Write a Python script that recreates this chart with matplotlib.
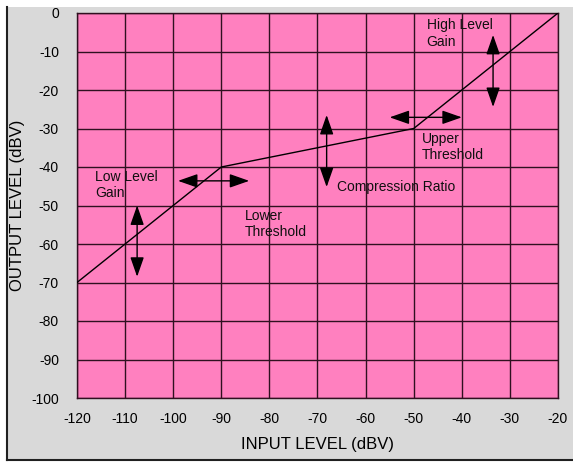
import matplotlib
matplotlib.use("Agg")
import matplotlib.pyplot as plt
from matplotlib.patches import Rectangle
from matplotlib.lines import Line2D

plt.rcParams['font.family'] = ['Liberation Sans', 'DejaVu Sans']

# Transfer curve (input dBV, output dBV)
curve_in = [-120, -90, -50, -20]
curve_out = [-70, -40, -30, 0]

x_ticks = [-120, -110, -100, -90, -80, -70, -60, -50, -40, -30, -20]
y_ticks = [-100, -90, -80, -70, -60, -50, -40, -30, -20, -10, 0]

# Double-headed arrows: (x1, y1, x2, y2)
arrows_start = [(-107.5, -50.0), (-99.0, -43.6), (-68.1, -26.5), (-55.0, -27.1), (-33.5, -5.7)]
arrows_end = [(-107.5, -68.5), (-84.2, -43.6), (-68.1, -45.2), (-40.0, -27.1), (-33.5, -24.4)]

# Annotations
labels = ["High Level\nGain", "Upper\nThreshold", "Compression Ratio", "Low Level\nGain", "Lower\nThreshold"]
label_pos = [(-47.3, -1.4), (-48.4, -30.8), (-66.0, -43.5), (-116.2, -40.8), (-85.2, -50.8)]

fig = plt.figure(figsize=(5.73, 4.62), dpi=100)
fig.patch.set_facecolor('white')
# gray panel with border
fig.patches.append(Rectangle((7/573, 2/462), 1 - 7/573, 1 - 9/462, transform=fig.transFigure,
                             facecolor='#D9D9D9', edgecolor='none', zorder=-10))
fig.lines.append(Line2D([6.5/573, 6.5/573], [2/462, 1 - 7/462], transform=fig.transFigure,
                        color='#202020', lw=1.5))
fig.lines.append(Line2D([6.5/573, 1.0], [2.5/462, 2.5/462], transform=fig.transFigure,
                        color='#202020', lw=1.5))

ax = fig.add_axes([77/573, 64/462, 481/573, 385/462])
ax.set_facecolor('#FF80BF')
ax.set_xlim(-120, -20)
ax.set_ylim(-100, 0)
ax.set_xticks(x_ticks)
ax.set_yticks(y_ticks)
ax.set_xticklabels([str(v) for v in x_ticks], fontsize=10)
ax.set_yticklabels([str(v) for v in y_ticks], fontsize=10)
ax.tick_params(axis='x', length=0, pad=10)
ax.tick_params(axis='y', length=0, pad=13)
ax.grid(True, color='#301020', lw=1.0)
ax.set_axisbelow(True)
for s in ax.spines.values():
    s.set_color('#301020')
    s.set_linewidth(1.0)

ax.plot(curve_in, curve_out, color='black', lw=1.0, zorder=3)

for (x1, y1), (x2, y2) in zip(arrows_start, arrows_end):
    ax.annotate('', xy=(x2, y2), xytext=(x1, y1),
                arrowprops=dict(arrowstyle='<|-|>,head_length=1.0,head_width=0.35',
                                color='black', lw=1.0, shrinkA=0, shrinkB=0,
                                mutation_scale=12), zorder=4)

for txt, (x, y) in zip(labels, label_pos):
    ax.text(x, y, txt, fontsize=10, ha='left', va='top', color='#101010',
            linespacing=1.2, zorder=5)

ax.set_xlabel('INPUT LEVEL (dBV)', fontsize=12)
ax.set_ylabel('OUTPUT LEVEL (dBV)', fontsize=12)
ax.xaxis.set_label_coords(0.5, -(445 - 398) / 385, transform=ax.transAxes)
ax.xaxis.label.set_va('center')
ax.yaxis.set_label_coords(-(77 - 18) / 481, 0.5, transform=ax.transAxes)
ax.yaxis.label.set_va('center')

fig.savefig('out.png', dpi=100, facecolor=fig.get_facecolor())
